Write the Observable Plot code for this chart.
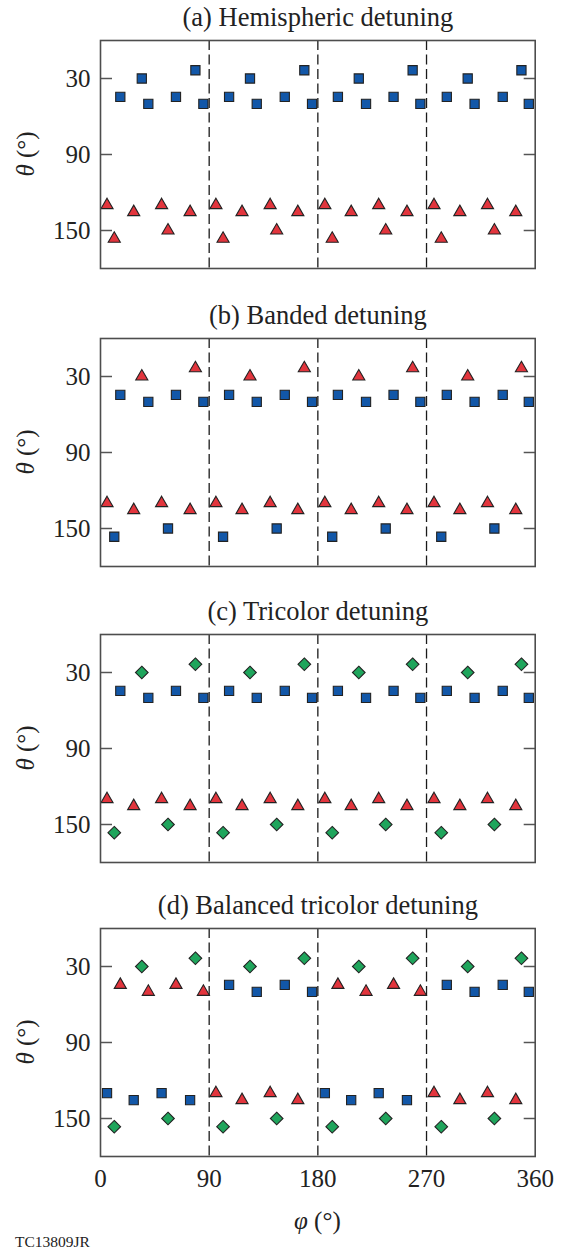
<!DOCTYPE html>
<html><head><meta charset="utf-8">
<script src="https://cdn.jsdelivr.net/npm/d3@7"></script>
<script src="https://cdn.jsdelivr.net/npm/@observablehq/plot@0.6"></script>
<style>
body{margin:0;background:#fff;}
#wrap{position:relative;width:564px;height:1249px;overflow:hidden;background:#fff;}
#wrap svg{position:absolute;left:0;}
#wrap svg text{font-family:"Liberation Serif","DejaVu Serif","Noto Serif",serif;}
</style></head><body><div id="wrap"></div>
<script>
// Polar angle (theta, deg) of each ring of beams, and azimuth (phi, deg) of the beams in each ring
const thetaRings = [23.5, 30, 44.5, 50, 130, 135.5, 150, 156.5];
const phiRing23 = [78.6, 168.8, 258.5, 348.6];
const phiRing30 = [34.2, 123.8, 213.9, 304.1];
const phiRing44 = [16.4, 62.5, 106.5, 152.6, 196.6, 242.7, 286.8, 333.1];
const phiRing50 = [39.6, 85.2, 129.4, 175.2, 219.9, 264.9, 309.8, 354.7];
const phiRing130 = [5.4, 50.6, 95.6, 140.5, 185.8, 230.4, 276.2, 320.5];
const phiRing135 = [27.5, 74.2, 117.2, 163.4, 207.6, 253.8, 297.6, 343.9];
const phiRing150 = [55.9, 145.9, 236.2, 326.2];
const phiRing156 = [11.4, 101.5, 191.9, 282.2];
const phiRings = [phiRing23, phiRing30, phiRing44, phiRing50, phiRing130, phiRing135, phiRing150, phiRing156];

// Colour group of each beam per panel (B = blue square, R = red triangle, G = green diamond)
const groupsA = ["BBBB", "BBBB", "BBBBBBBB", "BBBBBBBB", "RRRRRRRR", "RRRRRRRR", "RRRR", "RRRR"];
const groupsB = ["RRRR", "RRRR", "BBBBBBBB", "BBBBBBBB", "RRRRRRRR", "RRRRRRRR", "BBBB", "BBBB"];
const groupsC = ["GGGG", "GGGG", "BBBBBBBB", "BBBBBBBB", "RRRRRRRR", "RRRRRRRR", "GGGG", "GGGG"];
const groupsD = ["GGGG", "GGGG", "RRBBRRBB", "RRBBRRBB", "BBRRBBRR", "BBRRBBRR", "GGGG", "GGGG"];
const panelGroups = [groupsA, groupsB, groupsC, groupsD];
const panelTitles = ["(a) Hemispheric detuning", "(b) Banded detuning", "(c) Tricolor detuning", "(d) Balanced tricolor detuning"];

const xTicks = [0, 90, 180, 270, 360];
const yTicks = [30, 90, 150];
const sectorLines = [90, 180, 270];

const FONT = "Liberation Serif, DejaVu Serif, Noto Serif, serif";

function beams(groups) {
  const out = [];
  thetaRings.forEach((t, i) => phiRings[i].forEach((p, j) => out.push({phi: p, theta: t, g: groups[i][j]})));
  return out;
}

const wrap = document.getElementById("wrap");
const tops = [0, 298, 594, 888];

panelTitles.forEach((title, k) => {
  const last = k === 3;
  const height = last ? 361 : 298;
  const marginBottom = height - 40 - 228;
  const data = beams(panelGroups[k]);
  const marks = [
    Plot.ruleX(sectorLines, {stroke: "#1a1a1a", strokeWidth: 1.3, strokeDasharray: "10,4.5"}),
    Plot.axisY(yTicks, {anchor: "left", tickSize: 0, tickPadding: 10, label: null, fill: "#222"}),
    Plot.axisY(yTicks, {anchor: "left", tickSize: -12, fill: "none", stroke: "#555", strokeWidth: 1.5, label: null}),
    Plot.axisY(yTicks, {anchor: "right", tickSize: -12, fill: "none", stroke: "#555", strokeWidth: 1.5, label: null}),
    Plot.dot(data.filter(d => d.g === "B"), {x: "phi", y: "theta", symbol: "square", r: 5.2, fill: "#1257a8", stroke: "#222", strokeWidth: 1.1}),
    Plot.dot(data.filter(d => d.g === "R"), {x: "phi", y: "theta", symbol: "triangle", r: 4.5, fill: "#e2353d", stroke: "#222", strokeWidth: 1.1}),
    Plot.dot(data.filter(d => d.g === "G"), {x: "phi", y: "theta", symbol: "diamond2", r: 5.7, fill: "#1fa55c", stroke: "#222", strokeWidth: 1.1}),
    Plot.frame({stroke: "#4d4d4d", strokeWidth: 1.6}),
    Plot.text([title], {text: d => d, frameAnchor: "top", dy: -22.5, lineAnchor: "middle", fontSize: 26.5, fill: "#222"})
  ];
  if (last) marks.push(Plot.axisX(xTicks, {anchor: "bottom", tickSize: 0, tickPadding: 13, label: null, fill: "#222"}));
  const plot = Plot.plot({
    width: 564, height, marginTop: 40, marginLeft: 100, marginRight: 29.3, marginBottom,
    x: {domain: [0, 360], axis: last ? undefined : null},
    y: {domain: [0, 180], reverse: true},
    style: {fontFamily: FONT, fontSize: "25px", color: "#222", background: "transparent", overflow: "visible"},
    marks
  });
  plot.style.top = tops[k] + "px";
  wrap.appendChild(plot);

  const svg = d3.select(plot);
  const yr = plot.scale("y").range;
  const xr = plot.scale("x").range;
  const yc = (yr[0] + yr[1]) / 2;
  const ylab = svg.append("text")
    .attr("transform", `translate(34,${yc}) rotate(-90)`)
    .attr("text-anchor", "middle")
    .attr("font-size", 25).attr("fill", "#222");
  ylab.append("tspan").attr("font-style", "italic").text("θ");
  ylab.append("tspan").text(" (°)");

  if (last) {
    const xc = (xr[0] + xr[1]) / 2;
    const xlab = svg.append("text")
      .attr("x", xc).attr("y", Math.max(yr[0], yr[1]) + 73)
      .attr("text-anchor", "middle")
      .attr("font-size", 25).attr("fill", "#222");
    xlab.append("tspan").attr("font-style", "italic").text("φ");
    xlab.append("tspan").text(" (°)");
    svg.append("text").attr("x", 15).attr("y", 359)
      .attr("text-anchor", "start")
      .attr("font-size", 15.5).attr("fill", "#222")
      .text("TC13809JR");
  }
});
</script></body></html>
